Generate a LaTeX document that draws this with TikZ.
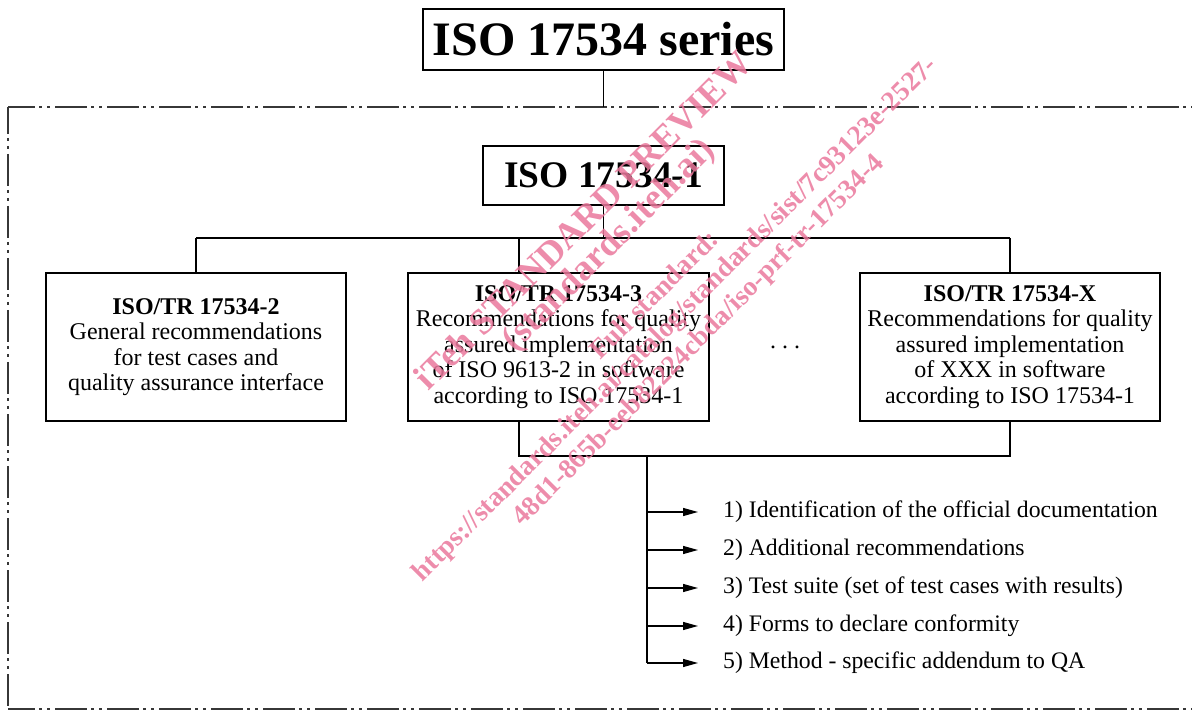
\documentclass[tikz,border=0pt]{standalone}
\usepackage{fontspec}
\setmainfont{Liberation Serif}
\usetikzlibrary{arrows.meta}
\definecolor{wm}{RGB}{234,120,156}
\definecolor{fr}{RGB}{55,55,55}
\begin{document}
\begin{tikzpicture}[x=1pt,y=-1pt,
  box/.style={draw=black, line width=1.3pt, inner sep=0pt, align=center},
  conn/.style={draw=black, line width=1.2pt},
  frameline/.style={draw=fr, line width=1.5pt, dash pattern=on 32pt off 4pt on 3pt off 5pt on 3pt off 5pt, dash phase=5pt},
  boxtext/.style={font=\fontsize{24}{25.5}\selectfont},
  itemtext/.style={anchor=west, inner sep=0pt, font=\fontsize{23.7}{26}\selectfont, text height=17pt, text depth=6pt},
  arr/.style={conn, -{Triangle[length=15pt,width=8pt]}, shorten >=25pt},
  wmtext/.style={text=wm, rotate=45, inner sep=0pt, opacity=0.85}
]
\useasboundingbox (0,0) rectangle (1192,711);

% frame
\draw[frameline] (8,107) -- (1192,107);
\draw[frameline] (8,107) -- (8,709);
\draw[frameline] (8,709) -- (1192,709);

% boxes
\node[box, minimum width=361pt, minimum height=61pt, font=\fontsize{48}{50}\selectfont\bfseries] (series) at (603.5,39.5) {ISO 17534 series};
\node[box, minimum width=241pt, minimum height=59pt, font=\fontsize{37.5}{40}\selectfont\bfseries] (iso1) at (603.5,175.5) {ISO 17534-1};
\node[box, boxtext, minimum width=300pt, minimum height=148pt] (b1) at (196,347) {\textbf{ISO/TR 17534-2}\\General recommendations\\for test cases and\\quality assurance interface};
\node[box, boxtext, minimum width=301pt, minimum height=148pt] (b2) at (558.5,347) {\textbf{ISO/TR 17534-3}\\Recommendations for quality\\assured implementation\\of ISO 9613-2 in software\\according to ISO 17534-1};
\node[box, boxtext, minimum width=300pt, minimum height=148pt] (bX) at (1010,347) {\textbf{ISO/TR 17534-X}\\Recommendations for quality\\assured implementation\\of XXX in software\\according to ISO 17534-1};
\node[anchor=base, inner sep=0pt, font=\fontsize{24}{26}\selectfont] (dots) at (785,349) {.\hspace{6pt}.\hspace{6pt}.};

% junction coordinates
\coordinate (ftop) at (603.5,107);
\coordinate (jm) at (603.5,238);
\coordinate (j1) at (196,238);
\coordinate (j2) at (519,238);
\coordinate (jX) at (1010,238);
\coordinate (k2) at (519,456);
\coordinate (kX) at (1010,456);
\coordinate (kv) at (647,456);

% connectors
\draw[conn] (series.south) -- (ftop);
\draw[conn] (iso1.south) -- (jm);
\draw[conn] (j1) -- (jX);
\draw[conn] (j1) -- (b1.north);
\draw[conn] (j2) -- (j2 |- b2.north);
\draw[conn] (jX) -- (bX.north);
\draw[conn] (k2 |- b2.south) -- (k2) -- (kX) -- (bX.south);

% items
\node[itemtext] (i1) at (723,512) {1) Identification of the official documentation};
\node[itemtext] (i2) at (723,550) {2) Additional recommendations};
\node[itemtext] (i3) at (723,588) {3) Test suite (set of test cases with results)};
\node[itemtext] (i4) at (723,626) {4) Forms to declare conformity};
\node[itemtext] (i5) at (723,663) {5) Method - specific addendum to QA};
\coordinate (kend) at (647,663);
\draw[conn] (kv) -- (kend);
\foreach \n in {i1,i2,i3,i4,i5}{
  \draw[arr] (kv |- \n.west) -- (\n.west);
}

% watermark
\node[wmtext, font=\fontsize{36.5}{38}\selectfont\bfseries] (wm1) at (583,220) {iTeh STANDARD PREVIEW};
\node[wmtext, font=\fontsize{36.5}{38}\selectfont\bfseries] (wm2) at (610,246) {(standards.iteh.ai)};
\node[wmtext, font=\fontsize{27.5}{29}\selectfont\bfseries] (wm3) at (654,294) {Full standard:};
\node[wmtext, font=\fontsize{27.5}{29}\selectfont\bfseries] (wm4) at (676,320) {https://standards.iteh.ai/catalog/standards/sist/7c93123e-2527-};
\node[wmtext, font=\fontsize{27.5}{29}\selectfont\bfseries] (wm5) at (699,341) {48d1-865b-eeb82224cbda/iso-prf-tr-17534-4};
\end{tikzpicture}
\end{document}
